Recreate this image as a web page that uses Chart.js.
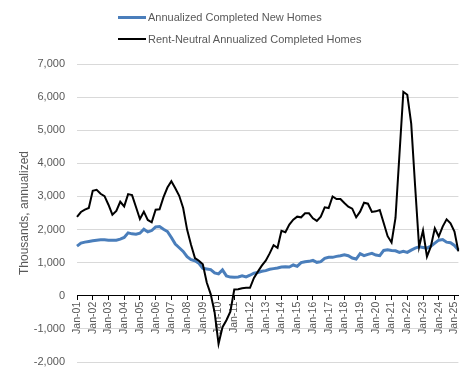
<!DOCTYPE html>
<html><head><meta charset="utf-8">
<script src="https://cdn.jsdelivr.net/npm/chart.js@4"></script>
<style>
html,body{margin:0;padding:0;background:#fff;}
#wrap{position:relative;width:473px;height:370px;}
#legend{position:absolute;left:118px;top:6px;font:11px 'Liberation Sans',Arial,sans-serif;color:#595959;}
.item{display:flex;align-items:center;height:22px;white-space:nowrap;}
.sw{width:28px;margin-right:2px;}
</style></head><body>
<div id="wrap"><canvas id="c" width="473" height="370"></canvas>
<div id="legend">
<div class="item"><div class="sw" style="height:3px;background:#4A7EBB"></div><span>Annualized Completed New Homes</span></div>
<div class="item"><div class="sw" style="height:2px;background:#000"></div><span>Rent-Neutral Annualized Completed Homes</span></div>
</div></div>
<script>
const years = ['01','02','03','04','05','06','07','08','09','10','11','12','13','14','15','16','17','18','19','20','21','22','23','24','25'];
const months = ['Jan','Apr','Jul','Oct'];
const seriesNames = ['Annualized Completed New Homes','Rent-Neutral Annualized Completed Homes'];
const yTicks = [-2000,-1000,0,1000,2000,3000,4000,5000,6000,7000];

const newHomes = [
1500,1590,1620,1640,1660,1680,1690,1690,
1680,1680,1680,1710,1760,1900,1870,1860,
1890,2010,1930,1970,2080,2090,2010,1940,
1760,1560,1450,1340,1180,1090,1060,980,
830,810,790,690,660,780,600,565,
560,570,600,570,620,680,700,740,
760,800,820,840,870,880,870,930,
890,1000,1030,1040,1070,1010,1030,1130,
1160,1160,1190,1210,1240,1210,1140,1110,
1270,1210,1250,1280,1230,1210,1370,1390,
1370,1360,1310,1340,1310,1380,1440,1480,
1460,1440,1500,1590,1680,1700,1620,1600,
1520,1380];

const rentNeutral = [
2380,2530,2600,2650,3170,3200,3080,3010,
2750,2450,2560,2840,2700,3070,3040,2680,
2320,2540,2290,2220,2600,2610,2980,3270,
3460,3250,3020,2650,2000,1540,1140,1060,
950,400,50,-500,-1450,-950,-740,-480,
190,200,230,240,240,540,730,910,
1060,1280,1530,1450,1960,1920,2150,2300,
2390,2370,2490,2490,2340,2260,2390,2670,
2650,3000,2920,2920,2800,2690,2630,2370,
2540,2810,2780,2530,2550,2590,2200,1800,
1610,2350,4250,6160,6070,5200,3300,1480,
1970,1180,1490,2040,1790,2090,2310,2190,
1940,1340];

const labels = [];
years.forEach(y => months.forEach(m => labels.push(m + '-' + y)));
const categories = labels.slice(0, newHomes.length);

const FONT = "'Liberation Sans', Arial, sans-serif";
const GREY = '#595959';

new Chart(document.getElementById('c'), {
  type: 'line',
  data: {
    labels: categories,
    datasets: [
      { label: seriesNames[0], data: newHomes, borderColor: '#4A7EBB', backgroundColor: '#4A7EBB',
        borderWidth: 3, pointRadius: 0, tension: 0, order: 1 },
      { label: seriesNames[1], data: rentNeutral, borderColor: '#000000', backgroundColor: '#000000',
        borderWidth: 2, pointRadius: 0, tension: 0, order: 0 }
    ]
  },
  options: {
    responsive: false,
    animation: false,
    layout: { padding: { left: 12, right: 10, top: 64, bottom: 8 } },
    plugins: { legend: { display: false }, tooltip: { enabled: false } },
    scales: {
      x: {
        position: { y: 0 },
        offset: false,
        grid: {
          drawOnChartArea: false,
          drawTicks: true,
          tickLength: 4,
          color: ctx => (categories[ctx.index] && categories[ctx.index].startsWith('Jan')) ? '#000000' : 'rgba(0,0,0,0)'
        },
        border: { display: true, color: '#000000', width: 1 },
        ticks: {
          autoSkip: false, minRotation: 90, maxRotation: 90, padding: 2,
          color: GREY, font: { family: FONT, size: 10.5 },
          callback: function(v, i) { const l = categories[i]; return l.startsWith('Jan') ? l : ''; }
        }
      },
      y: {
        min: yTicks[0], max: yTicks[yTicks.length - 1],
        afterFit: s => { s.width = 65; },
        afterBuildTicks: s => { s.ticks = yTicks.map(v => ({ value: v })); },
        grid: { color: '#d9d9d9', lineWidth: 1, drawTicks: true, tickLength: 11, tickColor: 'rgba(0,0,0,0)' },
        border: { display: false },
        ticks: {
          padding: 1, color: GREY, font: { family: FONT, size: 11 },
          callback: v => v.toLocaleString('en-US')
        },
        title: { display: true, text: 'Thousands, annualized', color: GREY,
          font: { family: FONT, size: 12 }, padding: { top: 5, bottom: 3 } }
      }
    }
  }
});
</script>
</body></html>
